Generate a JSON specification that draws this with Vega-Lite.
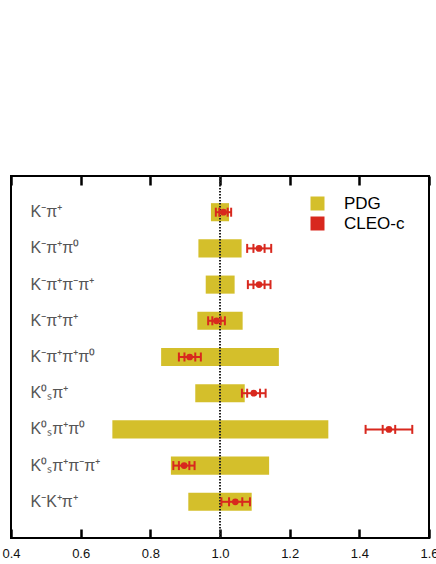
{
  "$schema": "https://vega.github.io/schema/vega-lite/v6.json",
  "width": 418,
  "height": 362,
  "autosize": {"type": "none"},
  "padding": {"left": 11, "top": 176, "right": 7, "bottom": 26},
  "background": "white",
  "config": {
    "view": {"stroke": "black", "strokeWidth": 2},
    "font": "Liberation Sans"
  },
  "data": {
    "values": [
      {"name": "K⁻π⁺", "pdg_lo": 0.974, "pdg_hi": 1.026, "c": 1.010, "lo": 0.988, "hi": 1.032, "ilo": 0.998, "ihi": 1.022},
      {"name": "K⁻π⁺π⁰", "pdg_lo": 0.938, "pdg_hi": 1.062, "c": 1.112, "lo": 1.078, "hi": 1.147, "ilo": 1.096, "ihi": 1.128},
      {"name": "K⁻π⁺π⁻π⁺", "pdg_lo": 0.959, "pdg_hi": 1.042, "c": 1.112, "lo": 1.080, "hi": 1.145, "ilo": 1.096, "ihi": 1.128},
      {"name": "K⁻π⁺π⁺", "pdg_lo": 0.935, "pdg_hi": 1.065, "c": 0.990, "lo": 0.966, "hi": 1.014, "ilo": 0.978, "ihi": 1.002},
      {"name": "K⁻π⁺π⁺π⁰", "pdg_lo": 0.831, "pdg_hi": 1.169, "c": 0.913, "lo": 0.882, "hi": 0.945, "ilo": 0.898, "ihi": 0.929},
      {"name": "K⁰ₛπ⁺", "pdg_lo": 0.929, "pdg_hi": 1.071, "c": 1.097, "lo": 1.063, "hi": 1.131, "ilo": 1.078, "ihi": 1.115},
      {"name": "K⁰ₛπ⁺π⁰", "pdg_lo": 0.691, "pdg_hi": 1.311, "c": 1.485, "lo": 1.418, "hi": 1.552, "ilo": 1.467, "ihi": 1.503},
      {"name": "K⁰ₛπ⁺π⁻π⁺", "pdg_lo": 0.859, "pdg_hi": 1.141, "c": 0.897, "lo": 0.866, "hi": 0.927, "ilo": 0.882, "ihi": 0.912},
      {"name": "K⁻K⁺π⁺", "pdg_lo": 0.909, "pdg_hi": 1.091, "c": 1.044, "lo": 1.004, "hi": 1.086, "ilo": 1.026, "ihi": 1.064}
    ]
  },
  "layer": [
    {
      "mark": {"type": "bar", "opacity": 1},
      "encoding": {
        "y": {
          "field": "name", "type": "nominal", "sort": null,
          "scale": {"paddingInner": 0.5, "paddingOuter": 0.75},
          "axis": {"title": null, "ticks": false, "domain": false, "grid": false, "labelAlign": "left", "labelBaseline": "middle", "labelPadding": -19, "labelFontSize": 16, "labelColor": "#555", "labelFont": "Liberation Sans"}
        },
        "x": {
          "field": "pdg_lo", "type": "quantitative",
          "scale": {"domain": [0.4, 1.6], "nice": false, "zero": false},
          "axis": {
            "orient": "bottom", "domain": false, "ticks": false, "grid": true, "gridColor": "black", "gridOpacity": 1,
            "gridWidth": {"condition": {"test": "round(datum.value * 10) % 2 == 0", "value": 2.5}, "value": 1.5},
            "gridDash": {"condition": {"test": "round(datum.value * 10) % 2 == 0", "value": [9, 344, 9, 50]}, "value": [5, 352, 5, 50]},
            "values": [0.4, 0.5, 0.6, 0.7, 0.8, 0.9, 1.0, 1.1, 1.2, 1.3, 1.4, 1.5, 1.6],
            "labelExpr": "round(datum.value * 10) % 2 == 0 ? format(datum.value, '.1f') : ''",
            "labelFontSize": 13, "labelPadding": 9, "labelColor": "#111", "labelFlush": false, "labelOverlap": false, "title": null,
            "encode": {"labels": {"update": {"dx": {"signal": "datum.value < 0.45 ? -4 : 0"}}}}
          }
        },
        "x2": {"field": "pdg_hi"},
        "color": {
          "datum": "PDG",
          "scale": {"domain": ["PDG", "CLEO-c"], "range": ["#d4bf2b", "#d8281e"]},
          "legend": {"title": null, "orient": "none", "legendX": 298, "legendY": 19, "symbolType": "square", "symbolSize": 196, "labelFontSize": 17, "labelOffset": 18, "rowPadding": 2, "padding": 0, "labelColor": "black", "symbolStrokeWidth": 0, "symbolOpacity": 1, "labelFont": "Liberation Sans"}
        }
      }
    },
    {
      "data": {"values": [{"ref": 1}]},
      "mark": {"type": "rule", "strokeDash": [1.5, 1.5], "strokeWidth": 2, "color": "#222"},
      "encoding": {"x": {"field": "ref", "type": "quantitative", "axis": {"title": null}}}
    },
    {
      "mark": {"type": "rule", "strokeWidth": 2, "color": "#d8281e"},
      "encoding": {
        "y": {"field": "name", "type": "nominal", "sort": null},
        "x": {"field": "lo", "type": "quantitative", "axis": {"title": null}},
        "x2": {"field": "hi"}
      }
    },
    {
      "transform": [{"fold": ["lo", "hi", "ilo", "ihi"], "as": ["k", "v"]}],
      "mark": {"type": "tick", "orient": "vertical", "size": 9, "thickness": 2, "color": "#d8281e", "opacity": 1},
      "encoding": {
        "y": {"field": "name", "type": "nominal", "sort": null},
        "x": {"field": "v", "type": "quantitative", "axis": {"title": null}}
      }
    },
    {
      "mark": {"type": "point", "filled": true, "shape": "circle", "size": 45, "opacity": 1},
      "encoding": {
        "y": {"field": "name", "type": "nominal", "sort": null},
        "x": {"field": "c", "type": "quantitative", "axis": {"title": null}},
        "color": {"datum": "CLEO-c"}
      }
    }
  ]
}
